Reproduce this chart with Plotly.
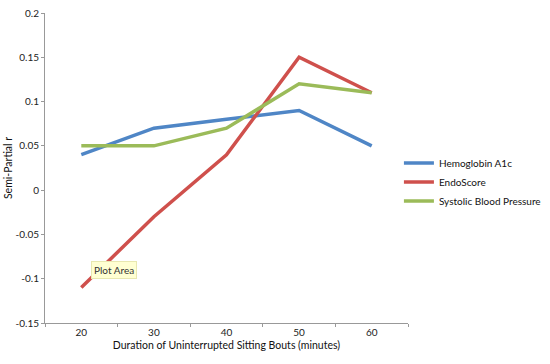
import plotly.graph_objects as go

categories = ["20", "30", "40", "50", "60"]
hemoglobin = [0.04, 0.07, 0.08, 0.09, 0.05]
endoscore = [-0.11, -0.03, 0.04, 0.15, 0.11]
systolic = [0.05, 0.05, 0.07, 0.12, 0.11]
y_ticks = [-0.15, -0.1, -0.05, 0, 0.05, 0.1, 0.15, 0.2]
y_tick_labels = ["-0.15", "-0.1", "-0.05", "0", "0.05", "0.1", "0.15", "0.2"]

font = "Lato, 'Liberation Sans', sans-serif"

fig = go.Figure()
for name, vals, color in [
    ("Hemoglobin A1c", hemoglobin, "#4F86C6"),
    ("EndoScore", endoscore, "#CF504C"),
    ("Systolic Blood Pressure", systolic, "#9BBB59"),
]:
    fig.add_trace(go.Scatter(x=categories, y=vals, mode="lines", name=name,
                             line=dict(color=color, width=3.5)))

fig.update_layout(
    width=550, height=364,
    margin=dict(l=45, r=142, t=13, b=41, autoexpand=False),
    paper_bgcolor="white", plot_bgcolor="white",
    font=dict(family=font, size=10, color="#222"),
    showlegend=True,
    legend=dict(x=0.975, y=0.455, xanchor="left", yanchor="middle",
                font=dict(size=10, color="#111"), tracegroupgap=7,
                itemwidth=30, bgcolor="rgba(0,0,0,0)"),
    xaxis=dict(type="category", range=[-0.5, 4.5], tickson="boundaries",
               ticks="outside", ticklen=3, automargin=False,
               tickcolor="#999", showline=True, linecolor="#999", linewidth=1,
               showgrid=False, zeroline=False, tickfont=dict(size=10, color="#222"),
               title=dict(text="Duration of Uninterrupted Sitting Bouts (minutes)",
                          font=dict(size=10.5, color="#111"), standoff=4)),
    yaxis=dict(range=[-0.15, 0.2], tickvals=y_ticks, ticktext=y_tick_labels,
               ticks="outside", ticklen=3, tickcolor="#999", showline=True,
               automargin=False,
               linecolor="#999", linewidth=1, showgrid=False, zeroline=False,
               tickfont=dict(size=10, color="#222"),
               title=dict(text="Semi-Partial r", font=dict(size=10.5, color="#111"), standoff=0)),
)

fig.add_annotation(xref="paper", yref="paper", x=0.19, y=0.171,
                   xanchor="center", yanchor="middle",
                   text="Plot Area", showarrow=False,
                   bgcolor="#FFFFD2", bordercolor="#E8E8B0", borderwidth=1, borderpad=2,
                   font=dict(size=10, color="#333", family=font))

fig.write_html("out.html", config={"displayModeBar": False},
               post_script="document.body.style.margin='0';")
